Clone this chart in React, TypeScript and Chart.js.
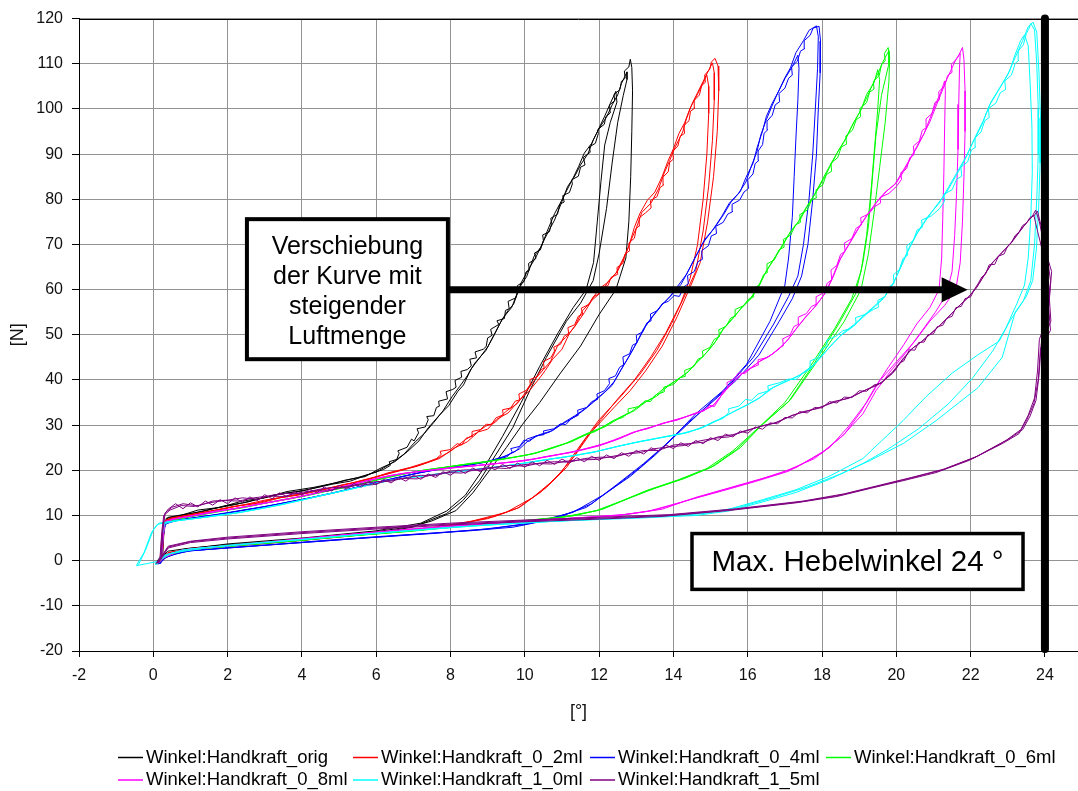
import React, { useEffect, useRef } from 'react';
import { Chart, registerables } from 'chart.js';

Chart.register(...registerables);

type Pt = [number, number];

// Axis ticks
const angleTicks = [-2, 0, 2, 4, 6, 8, 10, 12, 14, 16, 18, 20, 22, 24];
const forceMin = -20;
const forceMax = 120;
const forceStep = 10;
const angleMin = -2;
const angleMax = 24.89;

// Series names and colours
const seriesNames = [
  'Winkel:Handkraft_orig',
  'Winkel:Handkraft_0_2ml',
  'Winkel:Handkraft_0_4ml',
  'Winkel:Handkraft_0_6ml',
  'Winkel:Handkraft_0_8ml',
  'Winkel:Handkraft_1_0ml',
  'Winkel:Handkraft_1_5ml',
];
const seriesColors = ['#000000', '#ff0000', '#0000ff', '#00ff00', '#ff00ff', '#00ffff', '#800080'];

// Measured loops [angle °, force N], three load/unload cycles per series
const orig: Pt[] = [
  [0.05,-0.6],[0.22,-0.3],[0.25,4],[0.3,8.5],[0.4,9.6],[0.8,10.2],[1.3,10.8],[1.9,12.1],[2.5,12.9],[3.1,14.2],[3.7,15.1],[4.2,15.8],[4.8,16.9],[5.3,17.6],[5.8,19.1],
  [6.2,20.2],[6.38,21.1],[6.35,21.9],[6.55,22.4],[6.62,23.8],[6.58,24.3],[6.83,25.1],[6.95,26.9],[7.02,26.5],[7.14,28.3],[7.1,29.2],[7.32,29.6],[7.4,31.2],[7.36,31.9],[7.55,32.1],[7.62,33.9],[7.7,34.2],[7.68,35.3],[7.92,35.8],[7.88,37.4],[8.06,37.9],[8.15,38.4],[8.12,39.9],[8.3,40.6],[8.28,41.9],[8.45,42.3],[8.56,43.1],[8.52,44.6],[8.7,44.9],[8.66,46.2],[8.88,46.8],[8.96,47.4],[9.0,49.3],[9.12,49.9],[9.08,51.2],[9.3,52.3],[9.25,53.1],[9.45,53.6],[9.48,55.4],[9.58,55.8],[9.55,57.4],[9.76,58.2],[9.82,60.1],[9.8,60.9],[9.98,61.8],[10.03,63.9],[10.12,64.3],[10.1,65.8],[10.3,66.9],[10.26,68.1],[10.42,68.8],[10.5,70.9],[10.48,72.1],[10.66,72.8],[10.72,74.6],[10.7,75.8],[10.88,76.7],[10.94,78.9],[11.06,79.4],[11.02,80.8],[11.2,81.5],[11.28,83.4],[11.26,84.3],[11.44,85.1],[11.5,87.1],[11.62,87.6],[11.58,89.3],[11.76,90.4],[11.74,91.6],[11.9,92.4],[11.98,94.6],[11.96,95.4],[12.14,96.6],[12.18,98.3],[12.3,99.1],[12.28,100.9],[12.42,101.8],[12.4,103.2],[12.56,104.3],[12.6,106.1],[12.7,106.8],[12.68,108.4],[12.8,109.3],[12.84,111],
  [12.88,109.2],[12.9,104],[12.88,95],[12.85,85],[12.8,75],[12.72,67],[12.45,60],[12.0,54.5],[11.5,47.5],[10.94,41.3],[10.4,35],[9.94,30.2],[9.5,25],[9.05,20],[8.6,15],[8.15,11.1],[7.5,8.8],[7,7.6],[6,6.4],[5,5.6],[4,4.8],[3,4.1],[2,3.5],[1,2.8],[0.4,2.1],[0.25,1],[0.15,-0.4],
  [0.1,-0.5],[0.25,0.5],[0.28,5.5],[0.32,8.9],[0.5,9.4],[1.0,10.4],[1.6,11.5],[2.2,12.4],[2.8,13.6],[3.4,14.8],[4.0,15.4],[4.6,16.6],[5.2,17.9],[5.7,18.6],[6.1,20.4],[6.5,21.9],[6.85,24.2],[7.15,26.5],[7.4,29.4],[7.7,32.2],[7.95,34.3],[8.2,37.5],[8.35,38.9],[8.55,42.4],[8.8,45.1],[9.0,47.3],[9.2,50.4],[9.35,52.8],[9.55,55.4],[9.7,56.8],[9.9,61.5],[10.1,64.5],[10.3,67.2],[10.5,70.7],[10.65,73.1],[10.8,75.4],[11.0,79.5],[11.15,82.8],[11.35,85.2],[11.5,87.6],[11.7,90.1],[11.85,93.3],[12.0,95.7],[12.2,98.2],[12.35,100.9],[12.5,103.1],[12.6,105.6],[12.75,108.2],
  [12.75,106.5],[12.65,103],[12.5,97],[12.35,88],[12.2,78],[12.0,68],[11.84,62],[11.5,57],[11.12,53],[10.58,45],[10.13,37.6],[9.68,29.5],[9.23,23.6],[8.78,17.7],[8.33,13.3],[7.89,10.4],[6.98,7.4],[6,6.1],[5,5.3],[4,4.5],[3,3.8],[2,3.2],[1,2.6],[0.4,1.7],[0.2,-0.3],
  [0.08,-0.4],[0.2,1],[0.27,6],[0.35,9.4],[0.7,9.9],[1.2,11.2],[1.8,11.8],[2.4,13.2],[3.0,13.9],[3.6,15.3],[4.3,16.2],[4.9,17.2],[5.5,18.4],[6.0,19.6],[6.4,21.5],[6.75,23.6],[7.05,26.3],[7.3,28.2],[7.55,30.6],[7.8,33.2],[8.05,36.4],[8.25,38.6],[8.45,40.9],[8.65,43.7],[8.95,46.5],[9.15,49.6],[9.4,53.6],[9.65,56.1],[9.85,60.4],[10.05,62.9],[10.25,67.4],[10.45,69.6],[10.6,72.9],[10.8,76.8],[10.95,79.1],[11.1,81.5],[11.3,84.7],[11.45,87.3],[11.6,90.2],[11.8,92.4],[11.95,94.9],[12.15,98.4],[12.3,101.2],[12.45,103.9],
  [12.48,101.5],[12.3,97],[12.15,92],[12.05,84],[11.95,75],[11.85,66],[11.65,60],[11.3,56],[10.9,50.5],[10.4,43],[9.9,35],[9.4,27.5],[8.9,20.5],[8.4,14.5],[7.9,11],[7.2,8.3],[6,6.6],[4,5],[2,3.7],[0.8,2.5],[0.3,0.5],[0.12,-0.5],
];

const air02: Pt[] = [
  [0.1,-0.5],[0.2,0.3],[0.24,5],[0.3,8.7],[0.45,9.4],[0.9,10],[1.5,10.9],[2.1,11.9],[2.7,12.6],[3.3,13.8],[3.9,14.5],[4.5,15.6],[5.1,16.8],[5.7,17.7],[6.3,19.4],[6.9,20.6],
  [7.4,21.9],[7.62,22.6],[7.75,23.5],[7.72,24.2],[8.0,24.6],[8.18,25.9],[8.3,25.6],[8.42,27.1],[8.6,27.6],[8.58,28.6],[8.8,29],[8.96,30.2],[9.1,30.1],[9.22,31.6],[9.42,32.3],[9.4,33.4],[9.62,33.8],[9.74,35.3],[9.86,35.6],[9.84,36.9],[10.04,37.7],[10.16,39.2],[10.14,40.1],[10.32,40.7],[10.44,42.3],[10.52,42.6],[10.5,44.1],[10.7,44.9],[10.8,46.4],[10.78,47.3],[10.96,47.9],[11.06,49.7],[11.18,50.3],[11.16,51.6],[11.34,52.2],[11.44,54.1],[11.56,54.5],[11.52,55.9],[11.72,56.7],[11.84,58.4],[11.96,58.9],[12.08,60.4],[12.24,60.9],[12.32,62.7],[12.5,63.4],[12.48,64.9],[12.64,65.8],[12.7,67.9],[12.82,68.6],[12.8,70.3],[12.95,71.4],[13.0,73.6],[13.1,74.2],[13.08,75.9],[13.25,77],[13.4,78.1],[13.38,79.7],[13.56,80.6],[13.64,82.6],[13.74,83.2],[13.72,84.9],[13.86,86.1],[13.9,88.2],[14.0,88.9],[13.98,90.6],[14.12,91.8],[14.18,93.9],[14.3,94.6],[14.28,96.3],[14.42,97.4],[14.46,99.5],[14.58,100.2],[14.56,101.9],[14.7,103.1],[14.76,105.2],[14.86,105.9],[14.84,107.5],[14.98,108.8],[15.02,110.4],[15.12,111.2],
  [15.2,109.5],[15.22,104],[15.18,95],[15.08,85],[14.92,75],[14.72,66],[14.5,61.5],[14.1,54],[13.7,47.5],[13.25,42],[12.83,37.6],[12.4,33.9],[11.66,27.3],[11.12,20.6],[10.58,16.2],[9.86,11.8],[9.2,9.8],[8.5,8.6],[7.9,7.6],[7,6.8],[6,6.2],[5,5.4],[4,4.6],[3,3.9],[2,3.3],[1,2.6],[0.4,1.8],[0.2,-0.4],
  [0.12,-0.4],[0.24,0.8],[0.28,6],[0.33,9],[0.6,9.6],[1.2,10.5],[1.8,11.4],[2.4,12.3],[3.0,13.4],[3.6,14.2],[4.2,15.2],[4.8,16.2],[5.4,17.3],[6.0,18.6],[6.6,19.9],[7.2,21.2],[7.7,22.6],[8.1,24.9],[8.45,26.3],[8.75,28.5],[9.0,29.1],[9.25,31.3],[9.55,32.7],[9.85,35.5],[10.1,37.4],[10.35,39.9],[10.55,42.1],[10.75,44.6],[11.0,46.8],[11.2,50.3],[11.4,52.5],[11.6,54.9],[11.8,57.6],[12.05,59.4],[12.25,61.8],[12.5,64.1],[12.7,67.5],[12.85,70.8],[13.0,73.6],[13.15,77.1],[13.4,79.2],[13.6,82.3],[13.75,85.8],[13.9,88.6],[14.05,91.6],[14.25,94.9],[14.35,97.8],[14.5,101.1],[14.65,103.6],[14.8,106.1],[14.95,108.6],[15.05,110.2],
  [15.1,108],[15.1,102],[15.05,93],[14.95,83],[14.8,73],[14.6,64],[14.35,59.5],[13.95,52.5],[13.55,46.5],[13.1,41.3],[12.6,36.5],[12.0,31.2],[11.5,25.6],[11.0,19.8],[10.45,15.3],[9.8,11.6],[9.0,9.3],[8.0,7.8],[7,6.9],[5,5.2],[3,3.8],[1.5,2.9],[0.5,1.9],[0.15,-0.5],
  [0.08,-0.6],[0.18,0],[0.22,4.5],[0.28,8.4],[0.5,9.2],[1.1,10.3],[1.7,11.1],[2.3,12.2],[2.9,12.8],[3.5,14.1],[4.1,14.9],[4.7,15.9],[5.3,17.1],[5.9,18.3],[6.5,19.6],[7.1,20.9],[7.6,22.4],[8.0,24.2],[8.4,26.8],[8.7,28.3],[8.95,29.8],[9.2,30.6],[9.5,33.1],[9.8,34.8],[10.05,37.6],[10.3,40.4],[10.5,42.3],[10.7,44.2],[10.9,47.9],[11.1,49.4],[11.35,51.9],[11.55,55.3],[11.75,57.1],[12.0,60.2],[12.2,61.4],[12.45,63.6],[12.65,66.9],[12.8,69.6],[12.95,73.8],[13.1,76.9],[13.3,79.8],[13.5,81.6],[13.7,85.1],[13.85,88.4],[14.0,91.2],[14.15,94.6],[14.3,96.9],[14.45,100.2],[14.6,102.5],[14.75,104.9],[14.9,107.5],
  [14.95,105],[14.95,99],[14.9,90],[14.8,80],[14.65,70],[14.45,62.5],[14.2,57],[13.8,50.5],[13.4,45.2],[12.95,40],[12.5,35.8],[11.85,29.2],[11.35,23.3],[10.8,18],[10.2,13.9],[9.5,10.7],[8.6,8.8],[7.6,7.4],[6.5,6.5],[4.5,5],[2.5,3.6],[1,2.7],[0.35,1.5],[0.1,-0.5],
];

const air04: Pt[] = [
  [0.1,-0.7],[0.2,-0.6],[0.24,4],[0.3,7.9],[0.5,8.7],[1.0,9.4],[1.6,10.1],[2.2,10.9],[2.8,11.7],[3.4,12.6],[4.0,13.5],[4.6,14.6],[5.2,15.7],[5.8,16.9],[6.4,18.1],[7.0,19.2],[7.6,20.1],[8.2,20.8],[8.8,21.6],
  [9.3,22.5],[9.52,23],[9.66,24.1],[9.62,24.8],[9.86,25.3],[9.98,26.7],[10.12,26.4],[10.3,27.6],[10.52,27.9],[10.5,28.7],[10.78,29.2],[10.96,30.3],[11.1,30.1],[11.26,31.5],[11.44,32.2],[11.42,33.3],[11.66,33.9],[11.8,35.2],[11.96,35.7],[11.94,36.9],[12.14,37.6],[12.28,39.2],[12.26,40.3],[12.44,40.9],[12.55,42.8],[12.66,43.4],[12.64,45.1],[12.82,45.8],[12.9,47.7],[13.02,48.2],[13.0,49.9],[13.18,50.7],[13.28,52.6],[13.4,53.1],[13.38,54.6],[13.58,55.4],[13.7,56.9],[13.86,57.4],[14.02,58.7],[14.16,58.5],[14.28,60.6],[14.4,61.3],[14.38,63.1],[14.56,64],[14.66,66.2],[14.78,66.7],[14.76,68.6],[14.94,69.7],[15.02,71.9],[15.16,72.4],[15.14,74],[15.34,74.9],[15.46,76.7],[15.6,77.3],[15.58,78.9],[15.78,79.8],[15.9,81.6],[16.02,82.4],[16.0,84.3],[16.14,85.6],[16.2,87.9],[16.3,88.6],[16.28,90.7],[16.4,92.1],[16.44,94.6],[16.54,95.4],[16.52,97.3],[16.66,98.6],[16.74,100.9],[16.86,101.6],[16.84,103.4],[17.0,104.6],[17.1,106.8],[17.2,107.5],[17.18,109.3],[17.34,110.6],[17.42,112.8],[17.54,113.4],[17.52,115.1],[17.68,116.3],[17.76,117.9],[17.92,118.3],
  [17.96,115],[17.95,108],[17.9,100],[17.85,90],[17.75,80],[17.62,70],[17.45,63],[17.2,58],[16.85,53],[16.3,45.5],[15.7,40],[15.1,35.5],[14.4,30.6],[13.7,25],[13.1,20.6],[12.4,16.2],[11.66,11.8],[10.58,8.9],[9.68,7.4],[8.5,6.6],[7,5.8],[6,5.2],[5,4.6],[4,4],[3,3.4],[2,2.8],[1,2.2],[0.4,1.2],[0.18,-0.6],
  [0.12,-0.6],[0.22,0.5],[0.27,5.5],[0.33,8.2],[0.7,9],[1.3,9.7],[1.9,10.4],[2.5,11.3],[3.1,12.1],[3.7,13.1],[4.3,14],[4.9,15.1],[5.5,16.3],[6.1,17.5],[6.7,18.6],[7.3,19.7],[7.9,20.6],[8.5,21.2],[9.05,22.1],[9.5,23.2],[9.85,24.7],[10.1,26.6],[10.4,27.9],[10.75,28.8],[11.05,30.6],[11.35,32.1],[11.65,33.8],[11.9,35.7],[12.15,37.3],[12.4,39.6],[12.65,43.1],[12.85,45.9],[13.05,48.8],[13.25,51.9],[13.45,54.1],[13.7,56.7],[13.95,58.8],[14.2,61.1],[14.4,64.1],[14.6,67.3],[14.85,71.2],[15.1,73.6],[15.35,76.6],[15.55,79.4],[15.8,81.7],[15.95,84.8],[16.15,88.1],[16.25,91.4],[16.4,95.1],[16.5,98.3],[16.65,101.1],[16.85,104.2],[17.0,106.7],[17.2,109.4],[17.35,111.9],
  [17.38,109],[17.35,102],[17.3,94],[17.25,85],[17.2,76],[17.1,67],[17.0,61],[16.6,53],[15.97,43.5],[15.33,37.6],[14.6,32.5],[13.9,26.5],[13.2,21.5],[12.5,17],[11.8,12.6],[11,9.8],[10,8],[8.8,6.9],[7.5,6],[5.5,4.9],[3.5,3.7],[2,2.9],[0.8,2],[0.3,0.6],[0.15,-0.7],
  [0.08,-0.5],[0.2,0.2],[0.25,5],[0.3,8.4],[0.6,8.9],[1.2,9.6],[1.8,10.3],[2.4,11.1],[3.0,11.9],[3.6,12.9],[4.2,13.9],[4.8,14.9],[5.4,16.1],[6.0,17.2],[6.6,18.4],[7.2,19.5],[7.8,20.4],[8.4,21],[8.95,21.8],[9.4,22.9],[9.75,24.2],[10.05,26.9],[10.3,27.6],[10.65,28.4],[11.0,30.2],[11.3,31.6],[11.6,33.4],[11.85,35.1],[12.1,36.9],[12.35,38.8],[12.6,42.4],[12.8,45.1],[13.0,48.1],[13.2,51.4],[13.4,53.7],[13.65,56.3],[13.9,58.4],[14.1,60.6],[14.35,63.4],[14.55,66.6],[14.8,70.4],[15.05,73.1],[15.3,76.2],[15.5,79.1],[15.75,81.3],[15.95,83.8],[16.1,87.4],[16.25,90.6],[16.35,94.2],[16.5,97.6],[16.65,100.6],[16.8,103.4],[17.0,106.9],[17.15,109.1],[17.3,112.5],[17.5,115.1],[17.65,117.4],[17.85,118.4],
  [17.9,116],[17.88,109],[17.82,100],[17.75,90],[17.65,80],[17.5,70],[17.35,63],[17.1,58.5],[16.7,52.4],[16.15,45],[15.5,38.8],[14.9,34.2],[14.2,28.8],[13.5,23.3],[12.83,18.6],[12.1,14.5],[11.3,10.7],[10.2,8.4],[9,7],[7.5,6.1],[6,5.3],[4,4.1],[2.5,3.1],[1,2.2],[0.35,1],[0.12,-0.6],
];

const air06: Pt[] = [
  [0.1,-0.5],[0.2,0],[0.24,4.5],[0.3,8.2],[0.5,9],[1.0,9.8],[1.6,10.8],[2.2,11.5],[2.8,12.4],[3.4,13.4],[4.0,14.2],[4.6,15.3],[5.2,16.4],[5.8,17.4],[6.4,18.8],[7.0,19.6],[7.6,20.4],[8.2,21.1],[8.8,21.7],[9.4,22.5],[10.0,23.3],[10.6,24.5],[11.0,25.6],[11.5,27.4],[11.9,28.6],
  [12.4,31.1],[12.64,31.7],[12.8,32.9],[12.78,33.6],[13.06,34.1],[13.24,35.4],[13.38,35.2],[13.52,36.7],[13.76,37.4],[13.74,38.4],[14.0,39],[14.18,40.5],[14.32,40.8],[14.3,42.1],[14.54,42.9],[14.66,44.6],[14.8,45.1],[14.78,46.4],[14.98,47.2],[15.1,49],[15.24,49.6],[15.22,51.1],[15.42,51.9],[15.54,53.7],[15.68,54.2],[15.66,55.6],[15.88,56.4],[16.02,57.9],[16.16,58.4],[16.14,60.2],[16.32,61.1],[16.42,63.2],[16.54,63.9],[16.52,65.7],[16.72,66.6],[16.84,68.8],[16.98,69.4],[16.96,71.1],[17.16,72.1],[17.28,74.3],[17.42,74.9],[17.4,76.6],[17.6,77.6],[17.72,79.8],[17.86,80.4],[17.84,82.1],[18.02,83.2],[18.12,85.5],[18.26,86.2],[18.24,88],[18.42,89.2],[18.52,91.6],[18.66,92.2],[18.64,94],[18.82,95.3],[18.92,97.6],[19.04,98.3],[19.02,100.1],[19.2,101.4],[19.28,103.7],[19.4,104.4],[19.38,106.1],[19.54,107.4],[19.6,109.8],[19.7,110.6],[19.68,112.3],[19.78,113.6],
  [19.82,111.5],[19.8,106],[19.7,97],[19.55,87],[19.4,77],[19.25,68],[19.05,60],[18.6,53],[17.9,44.5],[17.15,35.6],[16.4,30.2],[15.8,25],[15.1,21],[14.3,18.2],[13.5,16],[12.8,13.8],[12.1,11.4],[11.3,9.9],[10,8.9],[8.5,7.8],[7,6.6],[5.5,5.6],[4,4.5],[2.5,3.5],[1,2.5],[0.35,1.4],[0.15,-0.5],
  [0.12,-0.4],[0.22,0.6],[0.26,5.2],[0.32,8.6],[0.7,9.3],[1.3,10.2],[1.9,11.1],[2.5,11.9],[3.1,12.9],[3.7,13.7],[4.3,14.8],[4.9,15.8],[5.5,16.8],[6.1,18.1],[6.7,19.1],[7.3,20.1],[7.9,20.7],[8.5,21.5],[9.1,22.1],[9.7,22.9],[10.3,23.8],[10.8,25.2],[11.25,26.3],[11.7,28.1],[12.15,29.6],[12.6,31.8],[12.95,33.2],[13.25,35.1],[13.55,36.4],[13.85,38.6],[14.15,40.3],[14.4,41.8],[14.65,44.1],[14.9,46.1],[15.15,48.7],[15.35,51.3],[15.6,53.6],[15.85,56.2],[16.1,58.1],[16.3,60.7],[16.5,64.1],[16.7,66.6],[16.95,69.9],[17.15,72.8],[17.4,75.3],[17.6,78.4],[17.85,81.7],[18.05,84.6],[18.25,87.8],[18.45,90.9],[18.65,93.6],[18.85,96.9],[19.05,99.8],[19.2,103.2],[19.4,105.8],[19.5,108.7],
  [19.55,106.5],[19.5,100],[19.42,92],[19.32,82],[19.2,72],[19.05,64],[18.8,58],[18.35,51.5],[17.7,43.2],[17.0,35],[16.3,29.5],[15.6,24.3],[14.9,20.4],[14.1,17.8],[13.3,15.6],[12.6,13.2],[11.9,11],[11,9.6],[9.5,8.5],[8,7.4],[6.5,6.3],[5,5.3],[3.5,4.2],[2,3.2],[0.8,2.3],[0.3,0.8],[0.12,-0.5],
  [0.08,-0.6],[0.2,0.3],[0.25,5],[0.3,8.5],[0.6,9.1],[1.2,10],[1.8,10.9],[2.4,11.7],[3.0,12.7],[3.6,13.6],[4.2,14.5],[4.8,15.6],[5.4,16.6],[6.0,17.8],[6.6,18.9],[7.2,19.9],[7.8,20.6],[8.4,21.3],[9.0,21.9],[9.6,22.7],[10.2,23.6],[10.7,24.9],[11.15,26.1],[11.6,27.9],[12.05,29.4],[12.5,31.5],[12.85,32.9],[13.15,34.7],[13.45,36.1],[13.75,38.2],[14.05,39.8],[14.35,41.5],[14.6,43.6],[14.85,45.7],[15.1,48.1],[15.3,50.9],[15.55,53.3],[15.8,55.6],[16.05,57.8],[16.25,60.2],[16.45,63.4],[16.65,66.1],[16.9,69.4],[17.1,72.2],[17.35,74.9],[17.55,77.9],[17.8,81.1],[18.0,84.2],[18.2,87.3],[18.4,90.2],[18.6,92.8],[18.8,96.2],[19.0,99.1],[19.2,102.4],[19.35,105.2],[19.5,107.8],[19.65,110.6],[19.8,112.9],
  [19.8,110],[19.6,103],[19.45,94],[19.35,84],[19.25,74],[19.1,66],[18.9,59],[18.45,52.4],[17.8,43.8],[17.1,35.2],[16.35,29.8],[15.7,24.6],[15.0,20.6],[14.2,18],[13.4,15.8],[12.7,13.5],[12,11.2],[11.1,9.7],[9.8,8.7],[8.2,7.5],[6.8,6.4],[5.2,5.4],[3.8,4.4],[2.2,3.3],[0.9,2.4],[0.3,1],[0.1,-0.5],
];

const air08: Pt[] = [
  [0.1,-0.5],[0.2,0.2],[0.25,5],[0.3,8.4],[0.5,9.2],[1.0,9.9],[1.6,10.9],[2.2,11.5],[2.8,12.5],[3.4,13.3],[4.0,14.3],[4.6,15.4],[5.2,16.6],[5.8,17.8],[6.4,18.9],[7.0,19.6],[7.6,20.1],[8.2,20.7],[8.8,21.1],[9.4,21.6],[10.0,22.1],[10.6,23.1],[11.2,23.9],[11.8,25.1],[12.4,26.6],[12.9,28.4],[13.3,29.2],[13.7,30.4],[14.1,31.1],
  [14.6,32.7],[14.84,33.3],[14.98,34.4],[15.1,34.1],[15.24,35.9],[15.34,37.6],[15.46,38.1],[15.44,39.4],[15.62,40.2],[15.76,41.6],[15.92,41.4],[16.08,42.6],[16.3,43.4],[16.28,44.5],[16.5,44.9],[16.68,45.8],[16.82,46.9],[16.96,47.6],[16.94,49.1],[17.14,49.9],[17.24,51.8],[17.38,52.4],[17.36,53.9],[17.58,54.7],[17.72,56.3],[17.86,56.8],[17.84,58.4],[18.04,59.3],[18.14,61.4],[18.26,62.2],[18.24,64.3],[18.4,65.4],[18.5,67.8],[18.62,68.5],[18.6,70.3],[18.8,71.3],[18.92,73.6],[19.06,74.3],[19.04,75.9],[19.26,76.8],[19.42,78.4],[19.58,79.2],[19.56,80.4],[19.8,81.3],[20.0,82.8],[20.14,84.4],[20.12,85.9],[20.28,86.8],[20.36,89.2],[20.48,89.9],[20.46,91.8],[20.62,92.9],[20.7,95.3],[20.82,95.9],[20.8,97.8],[20.96,99],[21.04,101.4],[21.16,102],[21.14,103.8],[21.3,105.1],[21.38,107.4],[21.5,108.1],[21.48,109.9],[21.64,111.2],[21.78,113.6],
  [21.82,111],[21.85,104],[21.85,95],[21.82,85],[21.78,75],[21.72,66],[21.6,60],[21.3,56.5],[20.9,53],[20.5,48.6],[20.0,44],[19.55,39.8],[19.2,35],[18.7,29.6],[18.2,25],[17.3,20.6],[16.4,18.2],[15.5,16.1],[14.6,14],[13.7,11.4],[12.8,10.3],[11.5,9.5],[10,8.8],[8.5,8],[7,7.1],[5.5,6],[4,4.9],[2.5,3.7],[1,2.6],[0.35,1.4],[0.15,-0.5],
  [0.12,-0.4],[0.22,0.7],[0.27,5.5],[0.32,8.7],[0.7,9.4],[1.3,10.3],[1.9,11.2],[2.5,12],[3.1,12.9],[3.7,13.8],[4.3,14.8],[4.9,16],[5.5,17.2],[6.1,18.4],[6.7,19.3],[7.3,19.9],[7.9,20.5],[8.5,20.9],[9.1,21.4],[9.7,21.9],[10.3,22.6],[10.9,23.5],[11.5,24.5],[12.1,25.8],[12.65,27.5],[13.1,28.9],[13.5,29.8],[13.9,30.8],[14.35,31.9],[14.8,33.1],[15.1,34.6],[15.35,37.2],[15.6,39.5],[15.85,41.4],[16.1,42.8],[16.35,44.3],[16.6,45.4],[16.85,46.9],[17.1,49.1],[17.35,51.8],[17.6,54.3],[17.85,56.6],[18.1,59.4],[18.3,62.8],[18.5,66.9],[18.75,70.3],[19.0,73.8],[19.25,76.9],[19.5,79.6],[19.75,81.9],[20.0,83.6],[20.2,86.2],[20.4,89.3],[20.55,91.7],[20.75,94.6],[20.9,97.8],[21.05,100.9],[21.2,103.8],[21.3,106.2],
  [21.32,104],[21.3,96],[21.28,86],[21.25,76],[21.22,67],[21.15,60],[20.9,56],[20.55,52.4],[20.2,47.8],[19.8,43],[19.4,38],[19.05,33],[18.6,28],[18.0,23.8],[17.1,19.8],[16.2,17.5],[15.3,15.4],[14.4,13.4],[13.5,11.2],[12.6,10.1],[11,9.3],[9.5,8.5],[8,7.6],[6.5,6.6],[5,5.6],[3.5,4.4],[2,3.3],[0.8,2.4],[0.3,0.8],[0.12,-0.5],
  [0.08,-0.6],[0.2,0.4],[0.25,5.2],[0.31,8.6],[0.6,9.3],[1.2,10.1],[1.8,11],[2.4,11.8],[3.0,12.7],[3.6,13.6],[4.2,14.6],[4.8,15.7],[5.4,16.9],[6.0,18.1],[6.6,19.1],[7.2,19.8],[7.8,20.3],[8.4,20.8],[9.0,21.3],[9.6,21.8],[10.2,22.4],[10.8,23.3],[11.4,24.2],[12.0,25.4],[12.55,27],[13.0,28.6],[13.4,29.5],[13.8,30.6],[14.25,31.6],[14.7,32.9],[15.05,34.2],[15.3,36.6],[15.55,39.1],[15.8,41.1],[16.05,42.4],[16.3,44],[16.55,45.1],[16.8,46.6],[17.05,48.6],[17.3,51.3],[17.55,53.9],[17.8,56.1],[18.05,58.8],[18.25,62.1],[18.45,66.2],[18.7,69.8],[18.95,73.2],[19.2,76.4],[19.45,79.2],[19.7,81.6],[19.95,83.2],[20.15,85.9],[20.35,88.7],[20.55,91.4],[20.7,93.8],[20.9,97.1],[21.05,100.2],[21.2,103.3],[21.35,106.4],[21.5,109.1],[21.62,111.2],[21.72,112.3],
  [21.7,109],[21.68,101],[21.66,91],[21.62,81],[21.57,72],[21.5,64],[21.35,59],[21.05,55],[20.7,51],[20.3,46.5],[19.85,42],[19.45,37.6],[19.1,32.5],[18.55,27.6],[17.8,22.6],[16.9,19.4],[16.0,17.2],[15.1,15.1],[14.2,12.9],[13.3,10.9],[12.4,9.9],[11,9.2],[9.4,8.4],[7.8,7.4],[6.3,6.4],[4.8,5.4],[3.3,4.2],[1.8,3.1],[0.7,2.2],[0.28,0.6],[0.1,-0.5],
];

const air10: Pt[] = [
  [-0.45,-1],[-0.25,1.8],[-0.05,6.2],[0.1,8],[0.4,8.6],[1.0,9.2],[1.6,9.8],[2.2,10.5],[2.8,11.4],[3.4,12.3],[4.0,13.4],[4.6,14.6],[5.2,15.6],[5.8,16.8],[6.4,17.9],[7.0,18.5],[7.6,19.1],[8.2,19.8],[8.8,20.3],[9.4,20.9],[10.0,21.6],[10.6,22.4],[11.2,23.1],[11.8,23.9],[12.4,25.1],[13.0,26.2],[13.6,27.1],[14.2,28.1],[14.7,29.2],
  [15.1,30.8],[15.34,31.5],[15.5,32.9],[15.48,33.6],[15.76,34.2],[15.94,35.7],[16.1,35.5],[16.28,36.9],[16.56,37.6],[16.54,38.7],[16.86,39.4],[17.1,40.2],[17.3,40.1],[17.5,41.6],[17.7,42.7],[17.68,44.2],[17.9,45],[18.0,46.9],[18.14,47.4],[18.12,48.8],[18.36,49.6],[18.56,50.9],[18.74,51.3],[18.92,52.4],[18.9,53.8],[19.16,54.5],[19.38,55.6],[19.52,56.1],[19.5,57.6],[19.7,58.5],[19.82,60.7],[19.94,61.4],[19.92,63.3],[20.08,64.4],[20.18,66.9],[20.3,67.6],[20.28,69.7],[20.46,70.9],[20.56,73.2],[20.7,73.8],[20.68,75.4],[20.94,76.3],[21.16,77.9],[21.3,79.6],[21.28,81.1],[21.5,82.1],[21.62,84.4],[21.76,85.1],[21.74,87.1],[21.92,88.3],[22.02,90.9],[22.14,91.6],[22.12,93.6],[22.28,94.9],[22.38,97.4],[22.5,98.1],[22.48,100.1],[22.68,101.3],[22.8,103.6],[22.94,104.3],[22.92,106.2],[23.1,107.5],[23.2,110.1],[23.3,110.8],[23.28,112.8],[23.42,114.2],[23.5,116.7],[23.56,117.6],[23.62,118.9],
  [23.72,117.5],[23.78,110],[23.82,100],[23.82,90],[23.78,80],[23.72,70],[23.62,62],[23.42,57.5],[23.05,53],[22.77,48.6],[22.2,45.6],[21.5,41.5],[20.8,36.3],[20.18,31],[19.6,26.5],[19.1,22.6],[18.2,18.7],[17.3,15.7],[16.4,13.5],[15.5,11.4],[14.6,10.3],[13.5,9.7],[12,9.2],[10,8.4],[8,7.4],[6,6.1],[4,4.7],[2,3.4],[0.8,2.4],[0.3,1.2],[0.05,-0.8],
  [0.1,-0.8],[0.2,1],[0.24,5.5],[0.3,8.2],[0.6,8.8],[1.2,9.4],[1.8,10.1],[2.4,10.8],[3.0,11.7],[3.6,12.7],[4.2,13.8],[4.8,14.9],[5.4,16],[6.0,17.1],[6.6,18.1],[7.2,18.7],[7.8,19.4],[8.4,19.9],[9.0,20.5],[9.6,21.1],[10.2,21.9],[10.8,22.6],[11.4,23.4],[12.0,24.3],[12.6,25.5],[13.2,26.5],[13.8,27.5],[14.4,28.4],[14.85,29.8],[15.25,31.4],[15.65,33.1],[16.0,34.6],[16.35,36.2],[16.7,38.4],[17.05,39.7],[17.4,41.1],[17.75,43.2],[18.05,45.9],[18.3,48.1],[18.55,50.3],[18.85,52.2],[19.1,54.1],[19.4,56.3],[19.7,58.6],[19.95,61.9],[20.15,65.6],[20.35,69.4],[20.6,73.1],[20.85,76.2],[21.15,79.1],[21.4,82.6],[21.65,86.2],[21.9,89.8],[22.1,93.4],[22.35,97.6],[22.55,101.6],[22.8,104.9],[23.05,108.4],[23.2,112.1],[23.35,115.2],[23.45,116.4],
  [23.55,114],[23.6,106],[23.65,96],[23.66,86],[23.62,76],[23.55,67],[23.45,61],[23.25,57],[22.95,51.5],[22.6,46.5],[22.05,40.4],[21.4,34.7],[20.6,29.2],[19.8,24.8],[19.1,21.5],[18.2,18],[17.3,15.1],[16.4,13],[15.5,11],[14.6,10],[13,9.4],[11,8.8],[9,7.9],[7,6.7],[5,5.4],[3,4],[1.5,2.9],[0.5,1.7],[0.1,-0.2],[-0.45,-1.1],
  [-0.4,-0.9],[-0.2,2.5],[0,6.8],[0.15,8.3],[0.5,8.7],[1.1,9.3],[1.7,10],[2.3,10.6],[2.9,11.5],[3.5,12.5],[4.1,13.6],[4.7,14.7],[5.3,15.8],[5.9,16.9],[6.5,18],[7.1,18.6],[7.7,19.2],[8.3,19.8],[8.9,20.4],[9.5,21],[10.1,21.7],[10.7,22.5],[11.3,23.2],[11.9,24.1],[12.5,25.3],[13.1,26.4],[13.7,27.3],[14.3,28.2],[14.8,29.5],[15.2,31.1],[15.6,32.9],[15.95,34.3],[16.3,35.9],[16.6,38],[16.95,39.4],[17.3,40.6],[17.7,42.5],[18.0,45.3],[18.25,47.7],[18.5,49.8],[18.8,51.6],[19.05,53.5],[19.35,55.7],[19.65,58],[19.9,61.1],[20.1,64.6],[20.3,68.3],[20.55,72.3],[20.8,75.4],[21.05,78.3],[21.35,81.5],[21.6,85.1],[21.85,88.8],[22.05,92.4],[22.3,96.4],[22.5,100.7],[22.75,104.1],[23.0,107.6],[23.2,111.4],[23.4,115.1],[23.55,118.2],[23.68,119.2],
  [23.78,117],[23.84,108],[23.88,98],[23.87,88],[23.83,78],[23.77,69],[23.67,62],[23.5,58.5],[23.2,55],[22.85,45],[22.2,38.3],[21.07,31],[20.2,26],[19.3,22.2],[18.5,19.2],[17.6,16.3],[16.7,14],[15.8,11.9],[14.9,10.5],[13.8,9.9],[12.3,9.3],[10.5,8.6],[8.5,7.6],[6.5,6.4],[4.5,5],[2.5,3.7],[1,2.6],[0.35,1.3],[0.05,-0.8],
];

const air15: Pt[] = [
  [0.1,-0.5],[0.2,0.5],[0.24,6],[0.3,10.2],
  [0.4,11.4],[0.6,12.6],[0.8,11.5],[1.0,12.8],[1.2,11.9],[1.4,13.2],[1.6,12.3],[1.8,13.5],[2.0,12.6],[2.2,13.9],[2.4,12.9],[2.6,14.1],[2.8,13.3],[3.0,14.6],[3.2,13.7],[3.4,15],[3.6,14.1],[3.8,15.3],[4.0,14.5],[4.2,15.8],[4.4,15],[4.6,16.3],[4.8,15.4],[5.0,16.7],[5.2,15.9],[5.4,17.1],[5.6,16.3],[5.8,17.6],[6.0,16.8],[6.2,18],[6.4,17.2],[6.6,18.4],[6.8,17.6],[7.0,18.9],[7.2,18],[7.4,19.2],[7.6,18.4],[7.8,19.7],[8.0,18.9],[8.2,20.1],[8.4,19.3],[8.6,20.5],[8.8,19.7],[9.0,20.9],[9.2,20.1],[9.4,21.3],[9.6,20.4],[9.8,21.6],[10.0,20.7],[10.2,21.9],[10.4,21],[10.6,22.2],[10.8,21.3],[11.0,22.5],[11.2,21.6],[11.4,22.8],[11.6,21.9],[11.8,23.1],[12.0,22.2],[12.2,23.4],[12.4,22.6],[12.6,23.9],[12.8,23.1],[13.0,24.4],[13.2,23.6],[13.4,25],[13.6,24.2],[13.8,25.6],[14.0,24.8],[14.2,26.1],[14.4,25.3],[14.6,26.6],[14.8,25.9],[15.0,27.2],[15.2,26.6],[15.4,28],[15.6,27.4],[15.8,28.7],[16.0,28.2],[16.2,29.6],[16.4,29.1],[16.6,30.5],[16.8,30.3],[17.0,31.7],[17.2,31.6],[17.4,33],[17.6,32.7],[17.8,33.9],[18.0,33.8],[18.2,35.2],[18.4,34.9],[18.6,36.2],[18.8,36.1],[19.0,37.6],[19.2,37.5],[19.4,38.9],[19.6,39.3],[19.8,40.9],[19.95,41.9],[20.1,43.8],[20.2,44.2],[20.35,46.7],[20.5,46.6],[20.6,48.3],[20.75,48.4],[20.85,50],[21.0,50.2],[21.1,51.8],[21.25,52.1],[21.35,53.6],[21.5,54.1],[21.6,56],[21.75,56.3],[21.85,58],[22.0,58.4],[22.1,60],[22.2,61.3],[22.3,62.8],[22.4,63.4],[22.5,65.5],[22.65,65.6],[22.75,67.4],[22.9,67.9],[23.0,69.7],[23.1,70.4],[23.2,72],[23.3,72.7],[23.4,74.2],[23.5,74.7],[23.6,76],[23.7,76.3],[23.8,77.4],
  [23.9,74],[24.05,68],[24.15,62],[24.1,56],[24.15,51],[23.88,47],[23.82,40],[23.7,34.7],[23.5,31],[23.3,28.1],[22.85,25.9],[21.96,22.2],[21.07,19.5],[20.18,17.7],[19.3,16],[18.4,14.2],[17.3,12.8],[15.5,11.1],[13.7,9.8],[12,9.2],[10,8.6],[8,7.9],[6,7],[4,6],[2,4.8],[1,4],[0.4,2.8],[0.15,-0.4],
  [0.12,-0.4],[0.22,1],[0.26,7],[0.32,10.6],[0.5,11.8],[0.8,12.6],[1.2,12.1],[1.6,13.2],[2.0,13.4],[2.4,13.9],[2.8,13.6],[3.2,14.5],[3.6,14.9],[4.0,14.8],[4.4,15.7],[4.8,16.2],[5.2,16.1],[5.6,17],[6.0,17.5],[6.4,17.6],[6.8,18.4],[7.2,18.9],[7.6,18.8],[8.0,19.8],[8.4,20.1],[8.8,20],[9.2,20.7],[9.6,21.1],[10.0,20.9],[10.4,21.6],[10.8,21.9],[11.2,21.8],[11.6,22.6],[12.0,22.9],[12.4,22.9],[12.8,23.8],[13.2,24.4],[13.6,24.4],[14.0,25.6],[14.4,25.9],[14.8,26.2],[15.2,27.4],[15.6,27.9],[16.0,28.8],[16.4,29.9],[16.8,30.6],[17.2,32.2],[17.6,33.1],[18.0,34.1],[18.4,35.3],[18.8,36.2],[19.2,37.9],[19.6,39.4],[19.9,41.8],[20.2,44.9],[20.45,47.1],[20.7,48.6],[20.95,50.4],[21.2,52.3],[21.45,54.4],[21.7,56.5],[21.95,58.4],[22.2,61],[22.4,63.6],[22.6,66.1],[22.85,68.3],[23.1,70.4],[23.3,72.6],[23.5,74.8],[23.7,76.5],
  [23.8,73],[23.98,67],[24.12,60],[24.08,54],[23.85,49],[23.8,42],[23.72,36],[23.55,32.2],[23.35,29],[22.95,26.6],[22.1,22.8],[21.2,20],[20.3,18.1],[19.4,16.3],[18.5,14.5],[17.4,13],[15.6,11.3],[13.8,10],[12,9.4],[10,8.8],[8,8.1],[6,7.2],[4,6.2],[2,5],[1,4.2],[0.4,3],[0.12,-0.5],
  [0.08,-0.6],[0.18,0.6],[0.23,6.5],[0.28,10],[0.45,11.2],[0.75,12.2],[1.1,12],[1.5,12.8],[1.9,13.3],[2.3,13.2],[2.7,13.9],[3.1,14.3],[3.5,14.2],[3.9,15],[4.3,15.5],[4.7,15.4],[5.1,16.3],[5.5,16.8],[5.9,16.8],[6.3,17.7],[6.7,18.2],[7.1,18.1],[7.5,19],[7.9,19.5],[8.3,19.4],[8.7,20.2],[9.1,20.6],[9.5,20.4],[9.9,21.2],[10.3,21.5],[10.7,21.4],[11.1,22],[11.5,22.3],[11.9,22.4],[12.3,23],[12.7,23.6],[13.1,23.9],[13.5,24.8],[13.9,25.2],[14.3,25.5],[14.7,26.5],[15.1,27.1],[15.5,27.4],[15.9,28.7],[16.3,29.6],[16.7,30.4],[17.1,31.8],[17.5,33],[17.9,33.7],[18.3,35.2],[18.7,35.9],[19.1,37.5],[19.5,38.9],[19.85,41.1],[20.15,44.2],[20.4,46.8],[20.65,48.3],[20.9,50.1],[21.15,51.9],[21.4,53.9],[21.65,56.1],[21.9,58],[22.15,60.3],[22.35,63],[22.55,65.6],[22.8,67.8],[23.05,70],[23.25,72.2],[23.45,74.3],[23.65,76.1],[23.75,77.6],
  [23.85,75],[24.0,69],[24.18,64],[24.12,58],[24.16,53],[23.9,48],[23.84,41],[23.76,35.5],[23.6,32],[23.4,29],[23.0,26.8],[22.2,23.2],[21.3,20.3],[20.4,18.4],[19.5,16.6],[18.6,14.8],[17.5,13.2],[15.7,11.5],[13.9,10.2],[12,9.6],[10,9],[8,8.3],[6,7.4],[4,6.4],[2,5.2],[1,4.3],[0.4,3.2],[0.12,-0.4],
];

const seriesData: Pt[][] = [orig, air02, air04, air06, air08, air10, air15];

// Annotations (data units)
const maxAngle = 24;
const shiftBox = { left: 2.52, right: 7.93, top: 75.6, bottom: 44.6 };
const shiftLines = ['Verschiebung', 'der Kurve mit', 'steigender', 'Luftmenge'];
const arrowLevel = 60;
const arrowTip = 21.92;
const limitBox = { left: 14.5, right: 23.41, top: 6.0, bottom: -6.36 };
const limitText = 'Max. Hebelwinkel 24 °';
const xTitle = '[°]';
const yTitle = '[N]';

const FONT = '"Liberation Sans", Arial, Helvetica, sans-serif';

const decorPlugin = {
  id: 'decor',
  afterDraw(chart: any) {
    const { ctx, chartArea: a } = chart;
    const xs = chart.scales.x;
    const ys = chart.scales.y;
    const px = (v: number) => xs.getPixelForValue(v);
    const py = (v: number) => ys.getPixelForValue(v);
    ctx.save();

    // top frame line
    ctx.strokeStyle = '#000';
    ctx.lineWidth = 1;
    ctx.beginPath();
    ctx.moveTo(a.left, Math.round(a.top) + 0.5);
    ctx.lineTo(a.right, Math.round(a.top) + 0.5);
    ctx.stroke();

    // vertical limit marker
    const xm = px(maxAngle);
    ctx.lineWidth = 8;
    ctx.lineCap = 'round';
    ctx.beginPath();
    ctx.moveTo(xm, a.top);
    ctx.lineTo(xm, a.bottom - 2);
    ctx.stroke();

    // shift arrow
    const ay = py(arrowLevel);
    const ax0 = px(shiftBox.right);
    const ax1 = px(arrowTip);
    ctx.lineCap = 'butt';
    ctx.lineWidth = 7;
    ctx.beginPath();
    ctx.moveTo(ax0, ay);
    ctx.lineTo(ax1 - 22, ay);
    ctx.stroke();
    ctx.fillStyle = '#000';
    ctx.beginPath();
    ctx.moveTo(ax1, ay);
    ctx.lineTo(ax1 - 26, ay - 12.5);
    ctx.lineTo(ax1 - 26, ay + 12.5);
    ctx.closePath();
    ctx.fill();

    const box = (b: { left: number; right: number; top: number; bottom: number }, lw: number) => {
      const l = px(b.left), r = px(b.right), t = py(b.top), btm = py(b.bottom);
      ctx.fillStyle = '#fff';
      ctx.fillRect(l, t, r - l, btm - t);
      ctx.strokeStyle = '#000';
      ctx.lineWidth = lw;
      ctx.lineJoin = 'miter';
      ctx.strokeRect(l, t, r - l, btm - t);
      return { cx: (l + r) / 2, cy: (t + btm) / 2 };
    };

    // shift annotation
    const c1 = box(shiftBox, 4);
    ctx.fillStyle = '#000';
    ctx.font = `25px ${FONT}`;
    ctx.textAlign = 'center';
    ctx.textBaseline = 'middle';
    shiftLines.forEach((line, i) => {
      ctx.fillText(line, c1.cx, c1.cy + 3 + (i - 1.5) * 30);
    });

    // limit annotation
    const c2 = box(limitBox, 3.5);
    ctx.fillStyle = '#000';
    ctx.font = `29.5px ${FONT}`;
    ctx.fillText(limitText, c2.cx, c2.cy + 1);

    // axis titles
    ctx.font = `18px ${FONT}`;
    ctx.fillStyle = '#111';
    ctx.fillText(xTitle, (a.left + a.right) / 2, 712);
    ctx.save();
    ctx.translate(18, (a.top + a.bottom) / 2);
    ctx.rotate(-Math.PI / 2);
    ctx.fillText(yTitle, 0, 0);
    ctx.restore();

    // legend: four columns, two rows
    const cols = [118, 353, 590, 826];
    const rows = [757.5, 780];
    ctx.font = `18.5px ${FONT}`;
    ctx.textAlign = 'left';
    chart.data.datasets.forEach((ds: any, i: number) => {
      const lx = cols[i % 4];
      const ly = rows[Math.floor(i / 4)];
      ctx.strokeStyle = ds.borderColor;
      ctx.lineWidth = 1.5;
      ctx.beginPath();
      ctx.moveTo(lx, ly);
      ctx.lineTo(lx + 25, ly);
      ctx.stroke();
      ctx.fillStyle = '#000';
      ctx.fillText(ds.label, lx + 28, ly);
    });

    ctx.restore();
  },
};

export default function App() {
  const canvasRef = useRef<HTMLCanvasElement | null>(null);

  useEffect(() => {
    if (!canvasRef.current) return;
    const datasets = seriesData.map((pts, i) => ({
      label: seriesNames[i],
      data: pts.map(([x, y]) => ({ x, y })),
      borderColor: seriesColors[i],
      backgroundColor: seriesColors[i],
      borderWidth: 1,
      pointRadius: 0,
      showLine: true,
      tension: 0,
      order: seriesData.length - i,
    }));

    const gridColor = '#939393';
    const tickFont = { family: FONT, size: 16 };

    const chart = new Chart(canvasRef.current, {
      type: 'scatter',
      data: { datasets },
      options: {
        animation: false,
        responsive: false,
        maintainAspectRatio: false,
        layout: { padding: { top: 17, left: 0, right: 0, bottom: 0 } },
        plugins: {
          legend: { display: false },
          tooltip: { enabled: false },
        },
        scales: {
          x: {
            type: 'linear',
            min: angleMin,
            max: angleMax,
            afterBuildTicks: (s: any) => {
              s.ticks = angleTicks.map((v) => ({ value: v }));
            },
            afterFit: (s: any) => {
              s.height = 140;
            },
            grid: { color: gridColor, lineWidth: 1, tickLength: 6, tickColor: '#000' },
            border: { color: '#000', width: 1 },
            ticks: {
              font: tickFont,
              color: '#111',
              padding: 9,
              maxRotation: 0,
              autoSkip: false,
            },
          },
          y: {
            type: 'linear',
            min: forceMin,
            max: forceMax,
            afterFit: (s: any) => {
              s.width = 79;
            },
            grid: { color: gridColor, lineWidth: 1, tickLength: 7, tickColor: '#000' },
            border: { color: '#000', width: 1 },
            ticks: {
              stepSize: forceStep,
              font: tickFont,
              color: '#111',
              padding: 9,
            },
          },
        },
      },
      plugins: [decorPlugin],
    } as any);

    return () => chart.destroy();
  }, []);

  return (
    <div style={{ position: 'absolute', left: 0, top: 0, width: 1078, height: 791, background: '#fff' }}>
      <canvas ref={canvasRef} width={1078} height={791} style={{ display: 'block' }} />
    </div>
  );
}
